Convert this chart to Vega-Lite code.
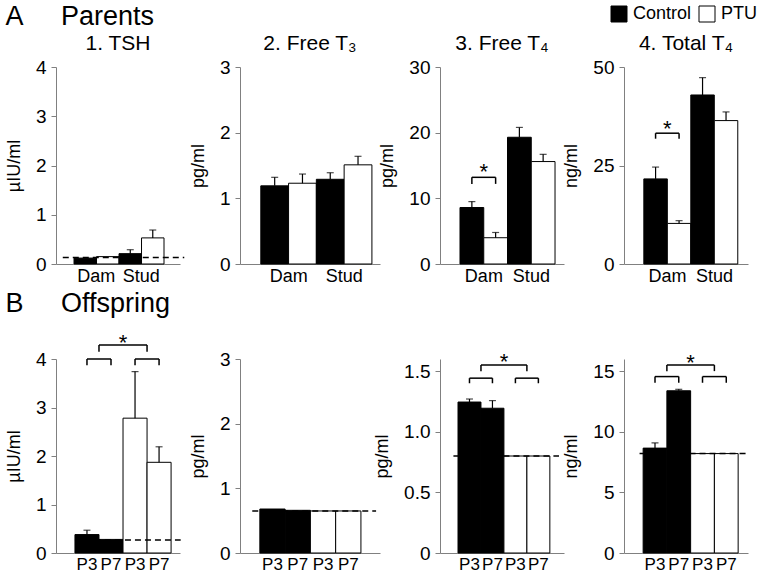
{
  "$schema": "https://vega.github.io/schema/vega-lite/v6.json",
  "background": "white",
  "padding": {"left": 5, "top": 3, "right": 5, "bottom": 0},
  "datasets": {
    "parents": [
      {"panel": "TSH", "bar": "Dam Control", "group": "Control", "value": 0.12, "upper": 0.12},
      {"panel": "TSH", "bar": "Dam PTU", "group": "PTU", "value": 0.15, "upper": 0.15},
      {"panel": "TSH", "bar": "Stud Control", "group": "Control", "value": 0.21, "upper": 0.29},
      {"panel": "TSH", "bar": "Stud PTU", "group": "PTU", "value": 0.53, "upper": 0.69},
      {"panel": "FT3", "bar": "Dam Control", "group": "Control", "value": 1.19, "upper": 1.32},
      {"panel": "FT3", "bar": "Dam PTU", "group": "PTU", "value": 1.23, "upper": 1.37},
      {"panel": "FT3", "bar": "Stud Control", "group": "Control", "value": 1.29, "upper": 1.39},
      {"panel": "FT3", "bar": "Stud PTU", "group": "PTU", "value": 1.51, "upper": 1.64},
      {"panel": "FT4", "bar": "Dam Control", "group": "Control", "value": 8.6, "upper": 9.5},
      {"panel": "FT4", "bar": "Dam PTU", "group": "PTU", "value": 4.0, "upper": 4.8},
      {"panel": "FT4", "bar": "Stud Control", "group": "Control", "value": 19.3, "upper": 20.8},
      {"panel": "FT4", "bar": "Stud PTU", "group": "PTU", "value": 15.6, "upper": 16.7},
      {"panel": "TT4", "bar": "Dam Control", "group": "Control", "value": 21.6, "upper": 24.6},
      {"panel": "TT4", "bar": "Dam PTU", "group": "PTU", "value": 10.3, "upper": 11.0},
      {"panel": "TT4", "bar": "Stud Control", "group": "Control", "value": 42.9, "upper": 47.3},
      {"panel": "TT4", "bar": "Stud PTU", "group": "PTU", "value": 36.4, "upper": 38.6}
    ],
    "offspring": [
      {"panel": "TSH", "bar": "Control P3", "group": "Control", "value": 0.38, "upper": 0.47},
      {"panel": "TSH", "bar": "Control P7", "group": "Control", "value": 0.28, "upper": 0.28},
      {"panel": "TSH", "bar": "PTU P3", "group": "PTU", "value": 2.78, "upper": 3.74},
      {"panel": "TSH", "bar": "PTU P7", "group": "PTU", "value": 1.87, "upper": 2.19},
      {"panel": "FT3", "bar": "Control P3", "group": "Control", "value": 0.68, "upper": 0.68},
      {"panel": "FT3", "bar": "Control P7", "group": "Control", "value": 0.66, "upper": 0.66},
      {"panel": "FT3", "bar": "PTU P3", "group": "PTU", "value": 0.65, "upper": 0.65},
      {"panel": "FT3", "bar": "PTU P7", "group": "PTU", "value": 0.65, "upper": 0.65},
      {"panel": "FT4", "bar": "Control P3", "group": "Control", "value": 1.245, "upper": 1.27},
      {"panel": "FT4", "bar": "Control P7", "group": "Control", "value": 1.194, "upper": 1.257},
      {"panel": "FT4", "bar": "PTU P3", "group": "PTU", "value": 0.8, "upper": 0.8},
      {"panel": "FT4", "bar": "PTU P7", "group": "PTU", "value": 0.8, "upper": 0.8},
      {"panel": "TT4", "bar": "Control P3", "group": "Control", "value": 8.65, "upper": 9.08},
      {"panel": "TT4", "bar": "Control P7", "group": "Control", "value": 13.38, "upper": 13.5},
      {"panel": "TT4", "bar": "PTU P3", "group": "PTU", "value": 8.2, "upper": 8.2},
      {"panel": "TT4", "bar": "PTU P7", "group": "PTU", "value": 8.2, "upper": 8.2}
    ],
    "limits": [
      {"row": "Parents", "panel": "TSH", "limit": 0.13, "start": "Dam Control", "end": "Stud PTU"},
      {"row": "Offspring", "panel": "TSH", "limit": 0.27, "start": "Control P3", "end": "PTU P7"},
      {"row": "Offspring", "panel": "FT3", "limit": 0.65, "start": "Control P3", "end": "PTU P7"},
      {"row": "Offspring", "panel": "FT4", "limit": 0.8, "start": "Control P3", "end": "PTU P7"},
      {"row": "Offspring", "panel": "TT4", "limit": 8.2, "start": "Control P3", "end": "PTU P7"}
    ],
    "brackets": [
      {"row": "Parents", "panel": "FT4", "level": "lower", "from": "Dam Control", "to": "Dam PTU", "top": 13.2, "leg": 12.2},
      {"row": "Parents", "panel": "TT4", "level": "lower", "from": "Dam Control", "to": "Dam PTU", "top": 33.2, "leg": 31.8},
      {"row": "Offspring", "panel": "TSH", "level": "lower", "from": "Control P3", "to": "Control P7", "top": 4.0, "leg": 3.87},
      {"row": "Offspring", "panel": "TSH", "level": "lower", "from": "PTU P3", "to": "PTU P7", "top": 4.0, "leg": 3.87},
      {"row": "Offspring", "panel": "TSH", "level": "upper", "from": "Control P3", "to": "PTU P3", "top": 4.29, "leg": 4.15},
      {"row": "Offspring", "panel": "FT4", "level": "lower", "from": "Control P3", "to": "Control P7", "top": 1.442, "leg": 1.4},
      {"row": "Offspring", "panel": "FT4", "level": "lower", "from": "PTU P3", "to": "PTU P7", "top": 1.442, "leg": 1.4},
      {"row": "Offspring", "panel": "FT4", "level": "upper", "from": "Control P3", "to": "PTU P3", "top": 1.55, "leg": 1.5},
      {"row": "Offspring", "panel": "TT4", "level": "lower", "from": "Control P3", "to": "Control P7", "top": 14.55, "leg": 14.04},
      {"row": "Offspring", "panel": "TT4", "level": "lower", "from": "PTU P3", "to": "PTU P7", "top": 14.55, "leg": 14.04},
      {"row": "Offspring", "panel": "TT4", "level": "upper", "from": "Control P3", "to": "PTU P3", "top": 15.5, "leg": 15.0}
    ],
    "stars": [
      {"row": "Parents", "panel": "FT4", "at": "Dam Control", "y": 14.7, "label": "*"},
      {"row": "Parents", "panel": "TT4", "at": "Dam Control", "y": 35.6, "label": "*"},
      {"row": "Offspring", "panel": "TSH", "at": "Control P7", "y": 4.44, "label": "*"},
      {"row": "Offspring", "panel": "FT4", "at": "Control P7", "y": 1.62, "label": "*"},
      {"row": "Offspring", "panel": "TT4", "at": "Control P7", "y": 16.06, "label": "*"}
    ]
  },
  "vconcat": [
    {
      "title": {"text": "A\u00a0\u00a0\u00a0\u00a0\u00a0Parents", "anchor": "start", "fontSize": 27, "fontWeight": "normal", "offset": 2},
      "bounds": "flush",
      "spacing": 60,
      "hconcat": [
        {
          "width": 124, "height": 197, "title": "1. TSH",
          "layer": [
            {"data": {"name": "parents"}, "transform": [{"filter": "datum.panel === 'TSH'"}], "mark": "bar",
             "encoding": {
               "x": {"field": "bar", "type": "nominal", "title": null, "scale": {"paddingInner": 0, "paddingOuter": 0.756, "align": 0.53},
                     "axis": {"labelExpr": "split(datum.value, ' ')[1] === 'Control' ? split(datum.value, ' ')[0] : ''", "labelOffset": 11}},
               "y": {"field": "value", "type": "quantitative", "title": "µIU/ml", "scale": {"domain": [0, 4]}, "axis": {"values": [0, 1, 2, 3, 4], "format": "d"}},
               "fill": {"field": "group", "type": "nominal", "title": null, "scale": {"domain": ["Control", "PTU"], "range": ["black", "white"]}}
             }},
            {"data": {"name": "parents"}, "transform": [{"filter": "datum.panel === 'TSH' && datum.upper > datum.value"}], "mark": {"type": "rule", "color": "black", "strokeWidth": 1.2},
             "encoding": {"x": {"field": "bar", "type": "nominal", "title": null}, "y": {"field": "value", "type": "quantitative", "title": "µIU/ml"}, "y2": {"field": "upper"}}},
            {"data": {"name": "parents"}, "transform": [{"filter": "datum.panel === 'TSH' && datum.upper > datum.value"}], "mark": {"type": "tick", "color": "black", "thickness": 1.2, "size": 7},
             "encoding": {"x": {"field": "bar", "type": "nominal", "title": null}, "y": {"field": "upper", "type": "quantitative", "title": "µIU/ml"}}},
            {"data": {"name": "limits"}, "transform": [{"filter": "datum.row === 'Parents' && datum.panel === 'TSH'"}], "mark": {"type": "rule", "color": "black", "strokeDash": [6, 4], "strokeWidth": 1.5},
             "encoding": {"x": {"field": "start", "type": "nominal", "bandPosition": -0.5, "title": null}, "x2": {"field": "end", "bandPosition": 1.9}, "y": {"field": "limit", "type": "quantitative", "title": "µIU/ml"}}}
          ]
        },
        {
          "width": 140, "height": 197, "title": "2. Free T₃",
          "layer": [
            {"data": {"name": "parents"}, "transform": [{"filter": "datum.panel === 'FT3'"}], "mark": "bar",
             "encoding": {
               "x": {"field": "bar", "type": "nominal", "title": null, "scale": {"paddingInner": 0, "paddingOuter": 0.52, "align": 0.72},
                     "axis": {"labelExpr": "split(datum.value, ' ')[1] === 'Control' ? split(datum.value, ' ')[0] : ''", "labelOffset": 14}},
               "y": {"field": "value", "type": "quantitative", "title": "pg/ml", "scale": {"domain": [0, 3]}, "axis": {"values": [0, 1, 2, 3], "format": "d"}},
               "fill": {"field": "group", "type": "nominal", "title": null}
             }},
            {"data": {"name": "parents"}, "transform": [{"filter": "datum.panel === 'FT3' && datum.upper > datum.value"}], "mark": {"type": "rule", "color": "black", "strokeWidth": 1.2},
             "encoding": {"x": {"field": "bar", "type": "nominal", "title": null}, "y": {"field": "value", "type": "quantitative", "title": "pg/ml"}, "y2": {"field": "upper"}}},
            {"data": {"name": "parents"}, "transform": [{"filter": "datum.panel === 'FT3' && datum.upper > datum.value"}], "mark": {"type": "tick", "color": "black", "thickness": 1.2, "size": 7},
             "encoding": {"x": {"field": "bar", "type": "nominal", "title": null}, "y": {"field": "upper", "type": "quantitative", "title": "pg/ml"}}}
          ]
        },
        {
          "width": 124, "height": 197, "title": "3. Free T₄",
          "layer": [
            {"data": {"name": "parents"}, "transform": [{"filter": "datum.panel === 'FT4'"}], "mark": "bar",
             "encoding": {
               "x": {"field": "bar", "type": "nominal", "title": null, "scale": {"paddingInner": 0, "paddingOuter": 0.61, "align": 0.69},
                     "axis": {"labelExpr": "split(datum.value, ' ')[1] === 'Control' ? split(datum.value, ' ')[0] : ''", "labelOffset": 12}},
               "y": {"field": "value", "type": "quantitative", "title": "pg/ml", "scale": {"domain": [0, 30]}, "axis": {"values": [0, 10, 20, 30]}},
               "fill": {"field": "group", "type": "nominal", "title": null}
             }},
            {"data": {"name": "parents"}, "transform": [{"filter": "datum.panel === 'FT4' && datum.upper > datum.value"}], "mark": {"type": "rule", "color": "black", "strokeWidth": 1.2},
             "encoding": {"x": {"field": "bar", "type": "nominal", "title": null}, "y": {"field": "value", "type": "quantitative", "title": "pg/ml"}, "y2": {"field": "upper"}}},
            {"data": {"name": "parents"}, "transform": [{"filter": "datum.panel === 'FT4' && datum.upper > datum.value"}], "mark": {"type": "tick", "color": "black", "thickness": 1.2, "size": 7},
             "encoding": {"x": {"field": "bar", "type": "nominal", "title": null}, "y": {"field": "upper", "type": "quantitative", "title": "pg/ml"}}},
            {"data": {"name": "brackets"}, "transform": [{"filter": "datum.row === 'Parents' && datum.panel === 'FT4'"}], "mark": {"type": "rule", "color": "black", "strokeWidth": 1.5},
             "encoding": {"x": {"field": "from", "type": "nominal", "title": null}, "x2": {"field": "to"}, "y": {"field": "top", "type": "quantitative", "title": "pg/ml"}}},
            {"data": {"name": "brackets"}, "transform": [{"filter": "datum.row === 'Parents' && datum.panel === 'FT4'"}], "mark": {"type": "rule", "color": "black", "strokeWidth": 1.5},
             "encoding": {"x": {"field": "from", "type": "nominal", "title": null}, "y": {"field": "top", "type": "quantitative", "title": "pg/ml"}, "y2": {"field": "leg"}}},
            {"data": {"name": "brackets"}, "transform": [{"filter": "datum.row === 'Parents' && datum.panel === 'FT4'"}], "mark": {"type": "rule", "color": "black", "strokeWidth": 1.5},
             "encoding": {"x": {"field": "to", "type": "nominal", "title": null}, "y": {"field": "top", "type": "quantitative", "title": "pg/ml"}, "y2": {"field": "leg"}}},
            {"data": {"name": "stars"}, "transform": [{"filter": "datum.row === 'Parents' && datum.panel === 'FT4'"}], "mark": {"type": "text", "fontSize": 22, "baseline": "middle", "dy": 5},
             "encoding": {"x": {"field": "at", "type": "nominal", "bandPosition": 1, "title": null}, "y": {"field": "y", "type": "quantitative", "title": "pg/ml"}, "text": {"field": "label"}}}
          ]
        },
        {
          "width": 124, "height": 197, "title": "4. Total T₄",
          "layer": [
            {"data": {"name": "parents"}, "transform": [{"filter": "datum.panel === 'TT4'"}], "mark": "bar",
             "encoding": {
               "x": {"field": "bar", "type": "nominal", "title": null, "scale": {"paddingInner": 0, "paddingOuter": 0.64, "align": 0.66},
                     "axis": {"labelExpr": "split(datum.value, ' ')[1] === 'Control' ? split(datum.value, ' ')[0] : ''", "labelOffset": 12}},
               "y": {"field": "value", "type": "quantitative", "title": "ng/ml", "scale": {"domain": [0, 50]}, "axis": {"values": [0, 25, 50]}},
               "fill": {"field": "group", "type": "nominal", "title": null}
             }},
            {"data": {"name": "parents"}, "transform": [{"filter": "datum.panel === 'TT4' && datum.upper > datum.value"}], "mark": {"type": "rule", "color": "black", "strokeWidth": 1.2},
             "encoding": {"x": {"field": "bar", "type": "nominal", "title": null}, "y": {"field": "value", "type": "quantitative", "title": "ng/ml"}, "y2": {"field": "upper"}}},
            {"data": {"name": "parents"}, "transform": [{"filter": "datum.panel === 'TT4' && datum.upper > datum.value"}], "mark": {"type": "tick", "color": "black", "thickness": 1.2, "size": 7},
             "encoding": {"x": {"field": "bar", "type": "nominal", "title": null}, "y": {"field": "upper", "type": "quantitative", "title": "ng/ml"}}},
            {"data": {"name": "brackets"}, "transform": [{"filter": "datum.row === 'Parents' && datum.panel === 'TT4'"}], "mark": {"type": "rule", "color": "black", "strokeWidth": 1.5},
             "encoding": {"x": {"field": "from", "type": "nominal", "title": null}, "x2": {"field": "to"}, "y": {"field": "top", "type": "quantitative", "title": "ng/ml"}}},
            {"data": {"name": "brackets"}, "transform": [{"filter": "datum.row === 'Parents' && datum.panel === 'TT4'"}], "mark": {"type": "rule", "color": "black", "strokeWidth": 1.5},
             "encoding": {"x": {"field": "from", "type": "nominal", "title": null}, "y": {"field": "top", "type": "quantitative", "title": "ng/ml"}, "y2": {"field": "leg"}}},
            {"data": {"name": "brackets"}, "transform": [{"filter": "datum.row === 'Parents' && datum.panel === 'TT4'"}], "mark": {"type": "rule", "color": "black", "strokeWidth": 1.5},
             "encoding": {"x": {"field": "to", "type": "nominal", "title": null}, "y": {"field": "top", "type": "quantitative", "title": "ng/ml"}, "y2": {"field": "leg"}}},
            {"data": {"name": "stars"}, "transform": [{"filter": "datum.row === 'Parents' && datum.panel === 'TT4'"}], "mark": {"type": "text", "fontSize": 22, "baseline": "middle", "dy": 5},
             "encoding": {"x": {"field": "at", "type": "nominal", "bandPosition": 1, "title": null}, "y": {"field": "y", "type": "quantitative", "title": "ng/ml"}, "text": {"field": "label"}}}
          ]
        }
      ]
    },
    {
      "title": {"text": "B\u00a0\u00a0\u00a0\u00a0\u00a0Offspring", "anchor": "start", "fontSize": 27, "fontWeight": "normal", "offset": 14},
      "bounds": "flush",
      "spacing": 60,
      "hconcat": [
        {
          "width": 124, "height": 194,
          "layer": [
            {"data": {"name": "offspring"}, "transform": [{"filter": "datum.panel === 'TSH'"}], "mark": "bar",
             "encoding": {
               "x": {"field": "bar", "type": "nominal", "title": null, "scale": {"paddingInner": 0, "paddingOuter": 0.58, "align": 0.68},
                     "axis": {"labelExpr": "split(datum.value, ' ')[1]", "labelFontSize": 17}},
               "y": {"field": "value", "type": "quantitative", "title": "µIU/ml", "scale": {"domain": [0, 4]}, "axis": {"values": [0, 1, 2, 3, 4], "format": "d"}},
               "fill": {"field": "group", "type": "nominal", "title": null}
             }},
            {"data": {"name": "offspring"}, "transform": [{"filter": "datum.panel === 'TSH' && datum.upper > datum.value"}], "mark": {"type": "rule", "color": "black", "strokeWidth": 1.2},
             "encoding": {"x": {"field": "bar", "type": "nominal", "title": null}, "y": {"field": "value", "type": "quantitative", "title": "µIU/ml"}, "y2": {"field": "upper"}}},
            {"data": {"name": "offspring"}, "transform": [{"filter": "datum.panel === 'TSH' && datum.upper > datum.value"}], "mark": {"type": "tick", "color": "black", "thickness": 1.2, "size": 7},
             "encoding": {"x": {"field": "bar", "type": "nominal", "title": null}, "y": {"field": "upper", "type": "quantitative", "title": "µIU/ml"}}},
            {"data": {"name": "limits"}, "transform": [{"filter": "datum.row === 'Offspring' && datum.panel === 'TSH'"}], "mark": {"type": "rule", "color": "black", "strokeDash": [6, 4], "strokeWidth": 1.5},
             "encoding": {"x": {"field": "start", "type": "nominal", "bandPosition": 0, "title": null}, "x2": {"field": "end", "bandPosition": 1.4}, "y": {"field": "limit", "type": "quantitative", "title": "µIU/ml"}}},
            {"data": {"name": "brackets"}, "transform": [{"filter": "datum.row === 'Offspring' && datum.panel === 'TSH' && datum.level === 'lower'"}], "mark": {"type": "rule", "color": "black", "strokeWidth": 1.5},
             "encoding": {"x": {"field": "from", "type": "nominal", "title": null}, "x2": {"field": "to"}, "y": {"field": "top", "type": "quantitative", "title": "µIU/ml"}}},
            {"data": {"name": "brackets"}, "transform": [{"filter": "datum.row === 'Offspring' && datum.panel === 'TSH' && datum.level === 'lower'"}], "mark": {"type": "rule", "color": "black", "strokeWidth": 1.5},
             "encoding": {"x": {"field": "from", "type": "nominal", "title": null}, "y": {"field": "top", "type": "quantitative", "title": "µIU/ml"}, "y2": {"field": "leg"}}},
            {"data": {"name": "brackets"}, "transform": [{"filter": "datum.row === 'Offspring' && datum.panel === 'TSH' && datum.level === 'lower'"}], "mark": {"type": "rule", "color": "black", "strokeWidth": 1.5},
             "encoding": {"x": {"field": "to", "type": "nominal", "title": null}, "y": {"field": "top", "type": "quantitative", "title": "µIU/ml"}, "y2": {"field": "leg"}}},
            {"data": {"name": "brackets"}, "transform": [{"filter": "datum.row === 'Offspring' && datum.panel === 'TSH' && datum.level === 'upper'"}], "mark": {"type": "rule", "color": "black", "strokeWidth": 1.5},
             "encoding": {"x": {"field": "from", "type": "nominal", "bandPosition": 1, "title": null}, "x2": {"field": "to", "bandPosition": 1}, "y": {"field": "top", "type": "quantitative", "title": "µIU/ml"}}},
            {"data": {"name": "brackets"}, "transform": [{"filter": "datum.row === 'Offspring' && datum.panel === 'TSH' && datum.level === 'upper'"}], "mark": {"type": "rule", "color": "black", "strokeWidth": 1.5},
             "encoding": {"x": {"field": "from", "type": "nominal", "bandPosition": 1, "title": null}, "y": {"field": "top", "type": "quantitative", "title": "µIU/ml"}, "y2": {"field": "leg"}}},
            {"data": {"name": "brackets"}, "transform": [{"filter": "datum.row === 'Offspring' && datum.panel === 'TSH' && datum.level === 'upper'"}], "mark": {"type": "rule", "color": "black", "strokeWidth": 1.5},
             "encoding": {"x": {"field": "to", "type": "nominal", "bandPosition": 1, "title": null}, "y": {"field": "top", "type": "quantitative", "title": "µIU/ml"}, "y2": {"field": "leg"}}},
            {"data": {"name": "stars"}, "transform": [{"filter": "datum.row === 'Offspring' && datum.panel === 'TSH'"}], "mark": {"type": "text", "fontSize": 22, "baseline": "middle", "dy": 5},
             "encoding": {"x": {"field": "at", "type": "nominal", "bandPosition": 1, "title": null}, "y": {"field": "y", "type": "quantitative", "title": "µIU/ml"}, "text": {"field": "label"}}}
          ]
        },
        {
          "width": 140, "height": 194,
          "layer": [
            {"data": {"name": "offspring"}, "transform": [{"filter": "datum.panel === 'FT3'"}], "mark": "bar",
             "encoding": {
               "x": {"field": "bar", "type": "nominal", "title": null, "scale": {"paddingInner": 0, "paddingOuter": 0.77, "align": 0.51},
                     "axis": {"labelExpr": "split(datum.value, ' ')[1]", "labelFontSize": 17}},
               "y": {"field": "value", "type": "quantitative", "title": "pg/ml", "scale": {"domain": [0, 3]}, "axis": {"values": [0, 1, 2, 3], "format": "d"}},
               "fill": {"field": "group", "type": "nominal", "title": null}
             }},
            {"data": {"name": "limits"}, "transform": [{"filter": "datum.row === 'Offspring' && datum.panel === 'FT3'"}], "mark": {"type": "rule", "color": "black", "strokeDash": [6, 4], "strokeWidth": 1.5},
             "encoding": {"x": {"field": "start", "type": "nominal", "bandPosition": -0.3, "title": null}, "x2": {"field": "end", "bandPosition": 1.6}, "y": {"field": "limit", "type": "quantitative", "title": "pg/ml"}}}
          ]
        },
        {
          "width": 124, "height": 194,
          "layer": [
            {"data": {"name": "offspring"}, "transform": [{"filter": "datum.panel === 'FT4'"}], "mark": "bar",
             "encoding": {
               "x": {"field": "bar", "type": "nominal", "title": null, "scale": {"paddingInner": 0, "paddingOuter": 0.7, "align": 0.56},
                     "axis": {"labelExpr": "split(datum.value, ' ')[1]", "labelFontSize": 17}},
               "y": {"field": "value", "type": "quantitative", "title": "pg/ml", "scale": {"domain": [0, 1.5]}, "axis": {"values": [0, 0.5, 1, 1.5], "labelExpr": "datum.value === 0 ? '0' : format(datum.value, '.1f')"}},
               "fill": {"field": "group", "type": "nominal", "title": null}
             }},
            {"data": {"name": "offspring"}, "transform": [{"filter": "datum.panel === 'FT4' && datum.upper > datum.value"}], "mark": {"type": "rule", "color": "black", "strokeWidth": 1.2},
             "encoding": {"x": {"field": "bar", "type": "nominal", "title": null}, "y": {"field": "value", "type": "quantitative", "title": "pg/ml"}, "y2": {"field": "upper"}}},
            {"data": {"name": "offspring"}, "transform": [{"filter": "datum.panel === 'FT4' && datum.upper > datum.value"}], "mark": {"type": "tick", "color": "black", "thickness": 1.2, "size": 7},
             "encoding": {"x": {"field": "bar", "type": "nominal", "title": null}, "y": {"field": "upper", "type": "quantitative", "title": "pg/ml"}}},
            {"data": {"name": "limits"}, "transform": [{"filter": "datum.row === 'Offspring' && datum.panel === 'FT4'"}], "mark": {"type": "rule", "color": "black", "strokeDash": [6, 4], "strokeWidth": 1.5},
             "encoding": {"x": {"field": "start", "type": "nominal", "bandPosition": -0.2, "title": null}, "x2": {"field": "end", "bandPosition": 1.4}, "y": {"field": "limit", "type": "quantitative", "title": "pg/ml"}}},
            {"data": {"name": "brackets"}, "transform": [{"filter": "datum.row === 'Offspring' && datum.panel === 'FT4' && datum.level === 'lower'"}], "mark": {"type": "rule", "color": "black", "strokeWidth": 1.5},
             "encoding": {"x": {"field": "from", "type": "nominal", "title": null}, "x2": {"field": "to"}, "y": {"field": "top", "type": "quantitative", "title": "pg/ml"}}},
            {"data": {"name": "brackets"}, "transform": [{"filter": "datum.row === 'Offspring' && datum.panel === 'FT4' && datum.level === 'lower'"}], "mark": {"type": "rule", "color": "black", "strokeWidth": 1.5},
             "encoding": {"x": {"field": "from", "type": "nominal", "title": null}, "y": {"field": "top", "type": "quantitative", "title": "pg/ml"}, "y2": {"field": "leg"}}},
            {"data": {"name": "brackets"}, "transform": [{"filter": "datum.row === 'Offspring' && datum.panel === 'FT4' && datum.level === 'lower'"}], "mark": {"type": "rule", "color": "black", "strokeWidth": 1.5},
             "encoding": {"x": {"field": "to", "type": "nominal", "title": null}, "y": {"field": "top", "type": "quantitative", "title": "pg/ml"}, "y2": {"field": "leg"}}},
            {"data": {"name": "brackets"}, "transform": [{"filter": "datum.row === 'Offspring' && datum.panel === 'FT4' && datum.level === 'upper'"}], "mark": {"type": "rule", "color": "black", "strokeWidth": 1.5},
             "encoding": {"x": {"field": "from", "type": "nominal", "bandPosition": 1, "title": null}, "x2": {"field": "to", "bandPosition": 1}, "y": {"field": "top", "type": "quantitative", "title": "pg/ml"}}},
            {"data": {"name": "brackets"}, "transform": [{"filter": "datum.row === 'Offspring' && datum.panel === 'FT4' && datum.level === 'upper'"}], "mark": {"type": "rule", "color": "black", "strokeWidth": 1.5},
             "encoding": {"x": {"field": "from", "type": "nominal", "bandPosition": 1, "title": null}, "y": {"field": "top", "type": "quantitative", "title": "pg/ml"}, "y2": {"field": "leg"}}},
            {"data": {"name": "brackets"}, "transform": [{"filter": "datum.row === 'Offspring' && datum.panel === 'FT4' && datum.level === 'upper'"}], "mark": {"type": "rule", "color": "black", "strokeWidth": 1.5},
             "encoding": {"x": {"field": "to", "type": "nominal", "bandPosition": 1, "title": null}, "y": {"field": "top", "type": "quantitative", "title": "pg/ml"}, "y2": {"field": "leg"}}},
            {"data": {"name": "stars"}, "transform": [{"filter": "datum.row === 'Offspring' && datum.panel === 'FT4'"}], "mark": {"type": "text", "fontSize": 22, "baseline": "middle", "dy": 5},
             "encoding": {"x": {"field": "at", "type": "nominal", "bandPosition": 1, "title": null}, "y": {"field": "y", "type": "quantitative", "title": "pg/ml"}, "text": {"field": "label"}}}
          ]
        },
        {
          "width": 124, "height": 194,
          "layer": [
            {"data": {"name": "offspring"}, "transform": [{"filter": "datum.panel === 'TT4'"}], "mark": "bar",
             "encoding": {
               "x": {"field": "bar", "type": "nominal", "title": null, "scale": {"paddingInner": 0, "paddingOuter": 0.61, "align": 0.66},
                     "axis": {"labelExpr": "split(datum.value, ' ')[1]", "labelFontSize": 17}},
               "y": {"field": "value", "type": "quantitative", "title": "ng/ml", "scale": {"domain": [0, 15]}, "axis": {"values": [0, 5, 10, 15]}},
               "fill": {"field": "group", "type": "nominal", "title": null}
             }},
            {"data": {"name": "offspring"}, "transform": [{"filter": "datum.panel === 'TT4' && datum.upper > datum.value"}], "mark": {"type": "rule", "color": "black", "strokeWidth": 1.2},
             "encoding": {"x": {"field": "bar", "type": "nominal", "title": null}, "y": {"field": "value", "type": "quantitative", "title": "ng/ml"}, "y2": {"field": "upper"}}},
            {"data": {"name": "offspring"}, "transform": [{"filter": "datum.panel === 'TT4' && datum.upper > datum.value"}], "mark": {"type": "tick", "color": "black", "thickness": 1.2, "size": 7},
             "encoding": {"x": {"field": "bar", "type": "nominal", "title": null}, "y": {"field": "upper", "type": "quantitative", "title": "ng/ml"}}},
            {"data": {"name": "limits"}, "transform": [{"filter": "datum.row === 'Offspring' && datum.panel === 'TT4'"}], "mark": {"type": "rule", "color": "black", "strokeDash": [6, 4], "strokeWidth": 1.5},
             "encoding": {"x": {"field": "start", "type": "nominal", "bandPosition": -0.15, "title": null}, "x2": {"field": "end", "bandPosition": 1.4}, "y": {"field": "limit", "type": "quantitative", "title": "ng/ml"}}},
            {"data": {"name": "brackets"}, "transform": [{"filter": "datum.row === 'Offspring' && datum.panel === 'TT4' && datum.level === 'lower'"}], "mark": {"type": "rule", "color": "black", "strokeWidth": 1.5},
             "encoding": {"x": {"field": "from", "type": "nominal", "title": null}, "x2": {"field": "to"}, "y": {"field": "top", "type": "quantitative", "title": "ng/ml"}}},
            {"data": {"name": "brackets"}, "transform": [{"filter": "datum.row === 'Offspring' && datum.panel === 'TT4' && datum.level === 'lower'"}], "mark": {"type": "rule", "color": "black", "strokeWidth": 1.5},
             "encoding": {"x": {"field": "from", "type": "nominal", "title": null}, "y": {"field": "top", "type": "quantitative", "title": "ng/ml"}, "y2": {"field": "leg"}}},
            {"data": {"name": "brackets"}, "transform": [{"filter": "datum.row === 'Offspring' && datum.panel === 'TT4' && datum.level === 'lower'"}], "mark": {"type": "rule", "color": "black", "strokeWidth": 1.5},
             "encoding": {"x": {"field": "to", "type": "nominal", "title": null}, "y": {"field": "top", "type": "quantitative", "title": "ng/ml"}, "y2": {"field": "leg"}}},
            {"data": {"name": "brackets"}, "transform": [{"filter": "datum.row === 'Offspring' && datum.panel === 'TT4' && datum.level === 'upper'"}], "mark": {"type": "rule", "color": "black", "strokeWidth": 1.5},
             "encoding": {"x": {"field": "from", "type": "nominal", "bandPosition": 1, "title": null}, "x2": {"field": "to", "bandPosition": 1}, "y": {"field": "top", "type": "quantitative", "title": "ng/ml"}}},
            {"data": {"name": "brackets"}, "transform": [{"filter": "datum.row === 'Offspring' && datum.panel === 'TT4' && datum.level === 'upper'"}], "mark": {"type": "rule", "color": "black", "strokeWidth": 1.5},
             "encoding": {"x": {"field": "from", "type": "nominal", "bandPosition": 1, "title": null}, "y": {"field": "top", "type": "quantitative", "title": "ng/ml"}, "y2": {"field": "leg"}}},
            {"data": {"name": "brackets"}, "transform": [{"filter": "datum.row === 'Offspring' && datum.panel === 'TT4' && datum.level === 'upper'"}], "mark": {"type": "rule", "color": "black", "strokeWidth": 1.5},
             "encoding": {"x": {"field": "to", "type": "nominal", "bandPosition": 1, "title": null}, "y": {"field": "top", "type": "quantitative", "title": "ng/ml"}, "y2": {"field": "leg"}}},
            {"data": {"name": "stars"}, "transform": [{"filter": "datum.row === 'Offspring' && datum.panel === 'TT4'"}], "mark": {"type": "text", "fontSize": 22, "baseline": "middle", "dy": 5},
             "encoding": {"x": {"field": "at", "type": "nominal", "bandPosition": 1, "title": null}, "y": {"field": "y", "type": "quantitative", "title": "ng/ml"}, "text": {"field": "label"}}}
          ]
        }
      ]
    }
  ],
  "spacing": 4,
  "config": {
    "font": "Liberation Sans",
    "view": {"stroke": null},
    "bar": {"stroke": "black", "strokeWidth": 1},
    "text": {"font": "Liberation Sans", "color": "black"},
    "title": {"fontSize": 21, "fontWeight": "normal", "font": "Liberation Sans", "color": "black", "offset": 0},
    "axis": {"grid": false, "domainColor": "#808080", "tickColor": "#808080", "labelColor": "black", "titleColor": "black", "labelFont": "Liberation Sans", "titleFont": "Liberation Sans", "titleFontWeight": "normal"},
    "axisY": {"tickSize": 5, "labelFontSize": 19, "titleFontSize": 18, "labelPadding": 5, "titlePadding": 12},
    "axisX": {"ticks": false, "labelAngle": 0, "labelFontSize": 18, "labelPadding": 3},
    "legend": {"orient": "none", "legendX": 554, "legendY": -62, "direction": "horizontal", "symbolType": "square", "symbolSize": 256, "symbolStrokeColor": "black", "symbolStrokeWidth": 1, "labelFontSize": 18, "labelFont": "Liberation Sans", "labelColor": "black", "columnPadding": 5, "labelOffset": 5}
  }
}
